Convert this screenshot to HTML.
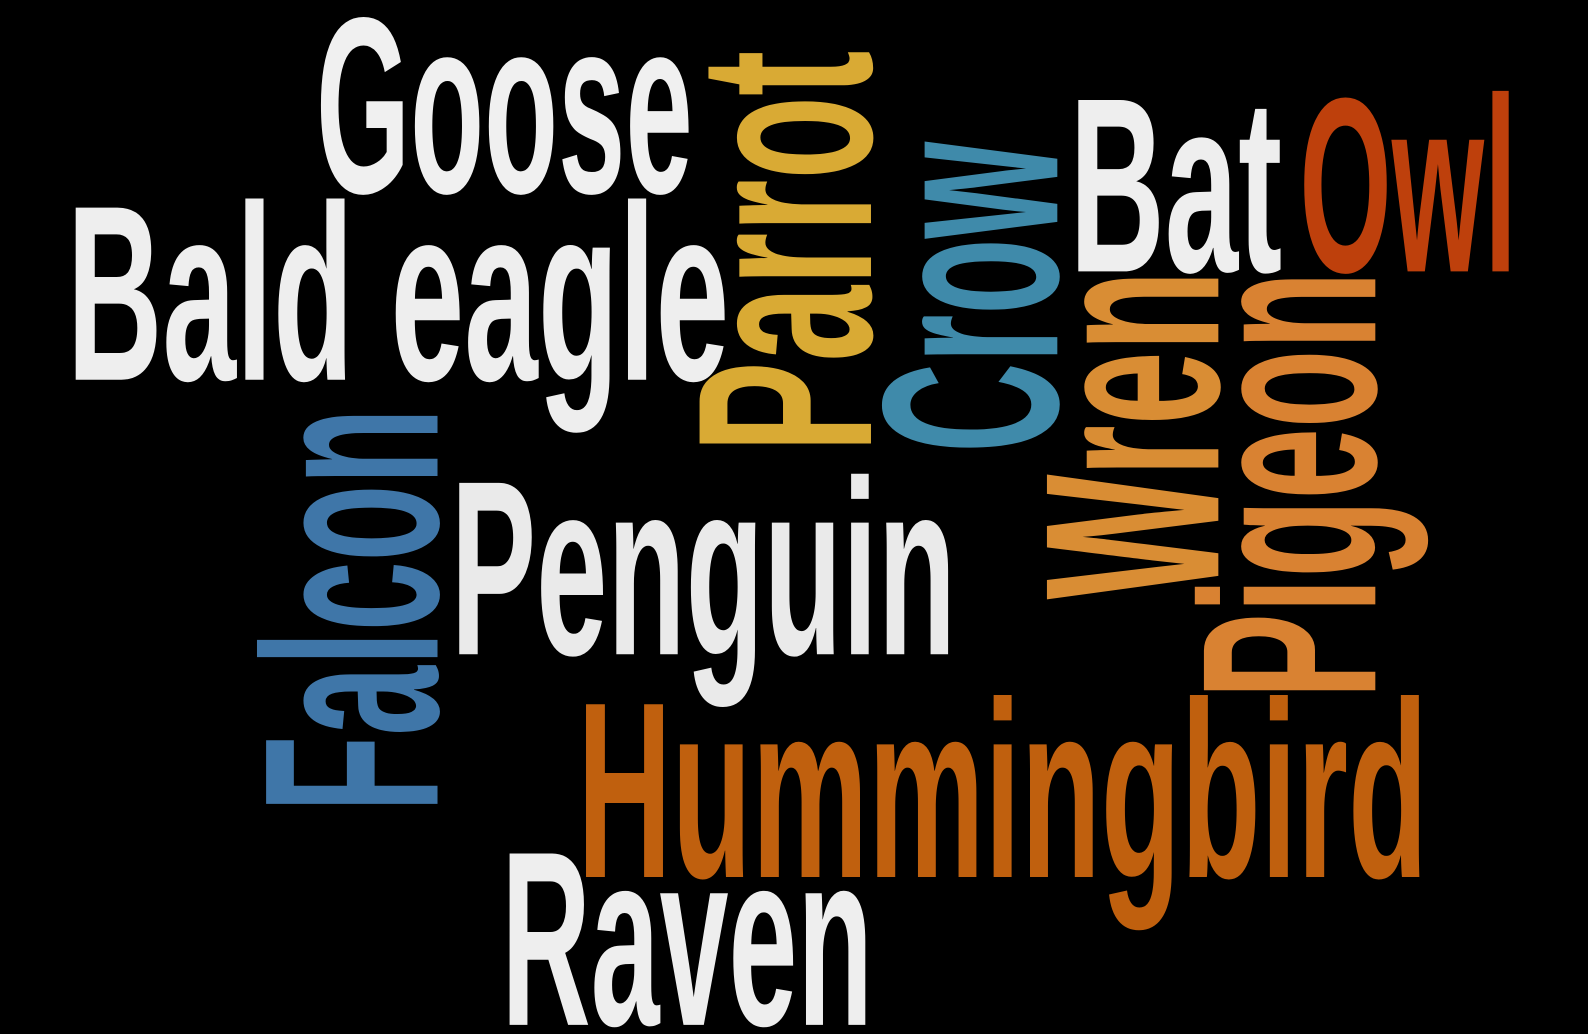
<!DOCTYPE html>
<html>
<head>
<meta charset="utf-8">
<style>
  html,body{margin:0;padding:0;background:#000;}
  svg{display:block;}
  text{font-family:"Liberation Sans Narrow","Liberation Sans",sans-serif;font-weight:bold;}
</style>
</head>
<body>
<svg width="1588" height="1034" viewBox="0 0 1568 1021" preserveAspectRatio="none" xmlns="http://www.w3.org/2000/svg">
  <rect x="0" y="0" width="1568" height="1021" fill="#000"/>

  <text x="312" y="190" font-size="248" fill="#F0F0F0" textLength="372" lengthAdjust="spacingAndGlyphs">Goose</text>
  <text x="66" y="375" font-size="247" fill="#EEEEEE" textLength="654" lengthAdjust="spacingAndGlyphs">Bald eagle</text>
  <text transform="translate(860,447) rotate(-90)" x="0" y="0" font-size="246" fill="#D9AA34" textLength="397" lengthAdjust="spacingAndGlyphs">Parrot</text>
  <text transform="translate(1044,447) rotate(-90)" x="0" y="0" font-size="248" fill="#3F8AAA" textLength="307" lengthAdjust="spacingAndGlyphs">Crow</text>
  <text x="1056" y="268" font-size="246" fill="#EEEEEE" textLength="210" lengthAdjust="spacingAndGlyphs">Bat</text>
  <text x="1283" y="268" font-size="246" fill="#BE400C" textLength="215" lengthAdjust="spacingAndGlyphs">Owl</text>
  <text transform="translate(1203,592) rotate(-90)" x="0" y="0" font-size="246" fill="#D98D34" textLength="325" lengthAdjust="spacingAndGlyphs">Wren</text>
  <text transform="translate(1358,690) rotate(-90)" x="0" y="0" font-size="246" fill="#D98232" textLength="422" lengthAdjust="spacingAndGlyphs">Pigeon</text>
  <text transform="translate(432,802) rotate(-90)" x="0" y="0" font-size="246" fill="#3F76A8" textLength="399" lengthAdjust="spacingAndGlyphs">Falcon</text>
  <text x="445" y="646" font-size="246" fill="#EAEAEA" textLength="499" lengthAdjust="spacingAndGlyphs">Penguin</text>
  <text x="570" y="866" font-size="248" fill="#C0600E" textLength="840" lengthAdjust="spacingAndGlyphs">Hummingbird</text>
  <text x="495" y="1012" font-size="246" fill="#EEEEEE" textLength="367" lengthAdjust="spacingAndGlyphs">Raven</text>
</svg>
</body>
</html>
